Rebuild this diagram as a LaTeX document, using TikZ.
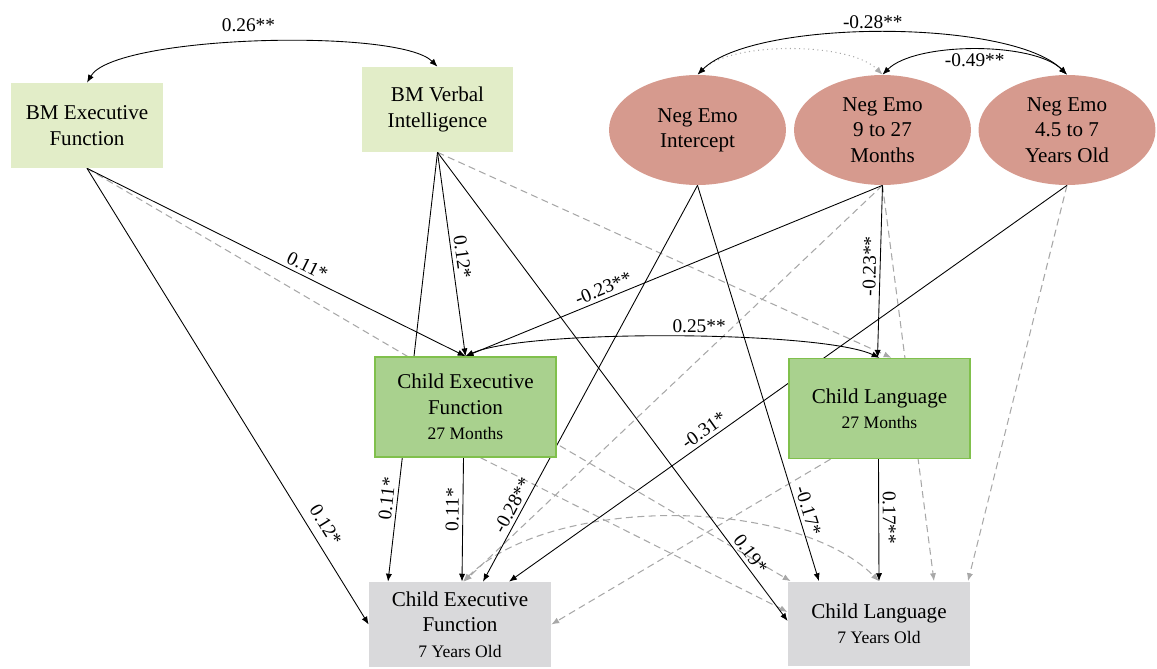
\documentclass[tikz,border=0pt]{standalone}
\usepackage{fontspec}
\setmainfont{Liberation Serif}
\usetikzlibrary{arrows.meta,calc,shapes.geometric,backgrounds}

\definecolor{bmgreen}{HTML}{E2EDC8}
\definecolor{emorose}{HTML}{D69A8E}
\definecolor{midgreen}{HTML}{A9D18E}
\definecolor{midedge}{HTML}{80C04C}
\definecolor{outgray}{HTML}{D9D9DB}
\definecolor{nsgray}{HTML}{A8A8A8}

\newcommand{\subtxt}[1]{{\fontsize{10}{12}\selectfont #1}}

\tikzset{
  txt/.style={font=\fontsize{12}{14.4}\selectfont, align=center, inner sep=0pt},
  bmbox/.style={txt, rectangle, fill=bmgreen, minimum width=3.04cm, minimum height=1.70cm},
  emo/.style={txt, ellipse, fill=emorose, minimum width=3.54cm, minimum height=2.2cm},
  midbox/.style={txt, rectangle, fill=midgreen, draw=midedge, line width=0.8pt, minimum width=3.62cm, minimum height=2.0cm},
  outbox/.style={txt, rectangle, fill=outgray, minimum width=3.64cm, minimum height=1.70cm},
  pth/.style={->, line width=0.5pt},
  ns/.style={->, draw=nsgray, line width=0.6pt, dash pattern=on 4pt off 2.5pt},
  lab/.style={font=\fontsize{11}{13}\selectfont, inner sep=2pt}
}

\begin{document}
\begin{tikzpicture}[x=0.02cm, y=0.02cm, >={Latex[length=4.5pt,width=3.5pt]}]
\useasboundingbox (0,0) rectangle (1157,-669);

% boxes and ellipses
\node[bmbox] (BE) at (87,-125.5) {BM Executive\\Function};
\node[bmbox] (BV) at (437.5,-109.5) {BM Verbal\\Intelligence};
\node[emo] (NI) at (697.5,-130) {Neg Emo\\Intercept};
\node[emo] (NM) at (882.5,-130) {Neg Emo\\9 to 27\\Months};
\node[emo] (NY) at (1067,-130) {Neg Emo\\4.5 to 7\\Years Old};
\node[midbox] (CE) at (465.5,-407) {Child Executive\\Function\\\subtxt{27 Months}};
\node[midbox] (CL) at (879.5,-408.5) {Child Language\\\subtxt{27 Months}};
\node[outbox] (EO) at (460,-624.5) {Child Executive\\Function\\\subtxt{7 Years Old}};
\node[outbox] (LO) at (879,-624) {Child Language\\\subtxt{7 Years Old}};

\begin{pgfonlayer}{background}
% non-significant paths
\draw[ns,<->,dotted] (NI.north) to[out=45,in=135,looseness=0.65] (NM.north);
\draw[ns] (BE.south) -- ($(LO.north west)+(3,0)$);
\draw[ns] (BV.south) -- ($(CL.north)+(12,0)$);
\draw[ns] (NM.south) -- ($(EO.north)+(4,0)$);
\draw[ns] (NM.south) -- ($(LO.north)+(55,0)$);
\draw[ns] (NY.south) -- ($(LO.north)+(89,0)$);
\draw[ns] ($(CE.south)+(15,0)$) -- ($(LO.west)+(0,12)$);
\draw[ns] ($(CL.south)+(-49,0)$) -- (EO.east);
\draw[ns,<->] ($(EO.north)+(3,0)$) to[out=45,in=135,looseness=0.75] (LO.north);

% covariances
\draw[pth,<->] (BV.north) to[out=135,in=60,looseness=0.4] node[lab,above=4pt,pos=0.52] {0.26**} (BE.north);
\draw[pth,<->] (NY.north) to[out=135,in=45,looseness=0.55] node[lab,above,pos=0.52] {-0.28**} (NI.north);
\draw[pth,<->] (NY.north) to[out=135,in=45,looseness=0.65] node[lab,below] {-0.49**} (NM.north);
\draw[pth,<->] (CE.north) to[out=25,in=155,looseness=0.4] node[lab,above,pos=0.55] {0.25**} (CL.north);

% significant paths
\draw[pth] (BE.south) -- node[lab,sloped,above,pos=0.57] {0.11*} (CE.north);
\draw[pth] (BE.south) -- node[lab,sloped,above=3pt,pos=0.8] {0.12*} (EO.west);
\draw[pth] (BV.south) -- node[lab,sloped,above,pos=0.52] {0.12*} (CE.north);
\draw[pth] (BV.south) -- node[lab,sloped,above,pos=0.81] {0.11*} ($(EO.north)+(-72,0)$);
\draw[pth] (BV.south) -- node[lab,sloped,above,pos=0.87] {0.19*} ($(LO.west)+(0,3)$);
\draw[pth] (NI.south) -- node[lab,sloped,above,pos=0.82] {-0.28**} ($(EO.north)+(23,0)$);
\draw[pth] (NI.south) -- node[lab,sloped,above,pos=0.83] {-0.17*} ($(LO.north)+(-60,0)$);
\draw[pth] (NM.south) -- node[lab,sloped,above,pos=0.66] {-0.23**} (CE.north);
\draw[pth] (NM.south) -- node[lab,sloped,above,pos=0.47] {-0.23**} ($(CL.north)+(-2,0)$);
\draw[pth] (NY.south) -- node[lab,sloped,above,pos=0.64] {-0.31*} ($(EO.north)+(49,0)$);
\draw[pth] ($(CE.south)+(-2,0)$) -- node[lab,sloped,above,pos=0.42] {0.11*} ($(EO.north)+(2,0)$);
\draw[pth] ($(CL.south)+(-1,0)$) -- node[lab,sloped,above,pos=0.48] {0.17**} (LO.north);
\end{pgfonlayer}
\end{tikzpicture}
\end{document}
